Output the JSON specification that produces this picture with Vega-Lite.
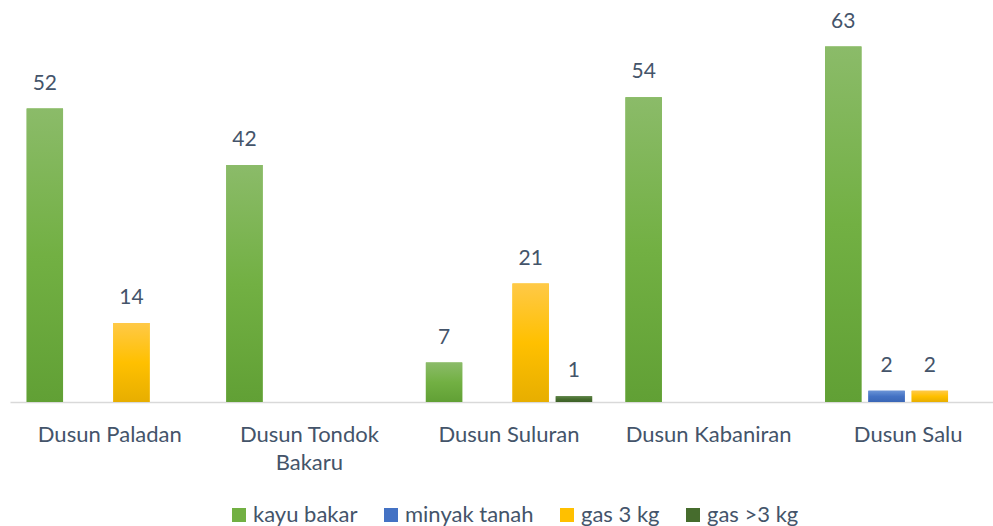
{
  "$schema": "https://vega.github.io/schema/vega-lite/v6.json",
  "width": 983,
  "height": 395,
  "autosize": {"type": "none"},
  "padding": {"left": 10, "top": 7, "right": 0, "bottom": 124},
  "background": "white",
  "config": {"view": {"stroke": null}, "font": "Lato"},
  "data": {"values": [
    {"dusun": "Dusun Paladan", "bahan": "kayu bakar", "jumlah": 52},
    {"dusun": "Dusun Paladan", "bahan": "gas 3 kg", "jumlah": 14},
    {"dusun": "Dusun Tondok Bakaru", "bahan": "kayu bakar", "jumlah": 42},
    {"dusun": "Dusun Suluran", "bahan": "kayu bakar", "jumlah": 7},
    {"dusun": "Dusun Suluran", "bahan": "gas 3 kg", "jumlah": 21},
    {"dusun": "Dusun Suluran", "bahan": "gas >3 kg", "jumlah": 1},
    {"dusun": "Dusun Kabaniran", "bahan": "kayu bakar", "jumlah": 54},
    {"dusun": "Dusun Salu", "bahan": "kayu bakar", "jumlah": 63},
    {"dusun": "Dusun Salu", "bahan": "minyak tanah", "jumlah": 2},
    {"dusun": "Dusun Salu", "bahan": "gas 3 kg", "jumlah": 2}
  ]},
  "encoding": {
    "x": {
      "field": "dusun", "type": "nominal", "sort": null,
      "scale": {"domain": ["Dusun Paladan", "Dusun Tondok Bakaru", "Dusun Suluran", "Dusun Kabaniran", "Dusun Salu"], "range": [0, 998], "paddingInner": 0, "paddingOuter": 0},
      "axis": {
        "title": null, "labelAngle": 0, "ticks": false, "domainColor": "#D9D9D9", "domainWidth": 1.3,
        "labelFont": "Lato", "labelFontSize": 22, "labelColor": "#44546A", "labelPadding": 22.5,
        "labelBaseline": "top", "labelLineHeight": 28, "labelLimit": 300,
        "labelExpr": "datum.label == 'Dusun Tondok Bakaru' ? ['Dusun Tondok', 'Bakaru'] : datum.label"
      }
    },
    "xOffset": {
      "field": "bahan", "type": "nominal",
      "scale": {"domain": ["kayu bakar", "minyak tanah", "gas 3 kg", "gas >3 kg"], "paddingInner": 0.16, "paddingOuter": 0.385}
    },
    "y": {
      "field": "jumlah", "type": "quantitative",
      "scale": {"domain": [0, 70], "nice": false},
      "axis": null
    }
  },
  "layer": [
    {
      "mark": {"type": "bar"},
      "encoding": {
        "color": {
          "field": "bahan", "type": "nominal",
          "scale": {
            "domain": ["kayu bakar", "minyak tanah", "gas 3 kg", "gas >3 kg"],
            "range": ["#72B043", "#4472C4", "#FFC000", "#466C2D"]
          },
          "legend": {
            "title": null, "orient": "none", "direction": "horizontal", "columns": 4,
            "legendX": 218, "legendY": 497, "padding": 0,
            "symbolType": "square", "symbolSize": 196, "symbolStrokeWidth": 0,
            "labelFont": "Lato", "labelFontSize": 22, "labelColor": "#44546A",
            "labelOffset": 3, "columnPadding": 22
          }
        }
      }
    },
    {
      "transform": [{"filter": "datum.bahan == 'kayu bakar'"}],
      "mark": {"type": "bar", "color": {"gradient": "linear", "x1": 0, "y1": 0, "x2": 0, "y2": 1, "stops": [{"offset": 0, "color": "#8BBB69"}, {"offset": 0.5, "color": "#72B043"}, {"offset": 1, "color": "#61A035"}]}},
      "encoding": {}
    },
    {
      "transform": [{"filter": "datum.bahan == 'minyak tanah'"}],
      "mark": {"type": "bar", "color": {"gradient": "linear", "x1": 0, "y1": 0, "x2": 0, "y2": 1, "stops": [{"offset": 0, "color": "#6A93D6"}, {"offset": 0.5, "color": "#4472C4"}, {"offset": 1, "color": "#3A66B6"}]}},
      "encoding": {}
    },
    {
      "transform": [{"filter": "datum.bahan == 'gas 3 kg'"}],
      "mark": {"type": "bar", "color": {"gradient": "linear", "x1": 0, "y1": 0, "x2": 0, "y2": 1, "stops": [{"offset": 0, "color": "#FFC947"}, {"offset": 0.5, "color": "#FFC000"}, {"offset": 1, "color": "#E7AE00"}]}},
      "encoding": {}
    },
    {
      "transform": [{"filter": "datum.bahan == 'gas >3 kg'"}],
      "mark": {"type": "bar", "color": {"gradient": "linear", "x1": 0, "y1": 0, "x2": 0, "y2": 1, "stops": [{"offset": 0, "color": "#5D8446"}, {"offset": 0.5, "color": "#466C2D"}, {"offset": 1, "color": "#3D6027"}]}},
      "encoding": {}
    },
    {
      "mark": {"type": "text", "baseline": "middle", "dy": -25, "font": "Lato", "fontSize": 21, "color": "#44546A"},
      "encoding": {"text": {"field": "jumlah", "type": "quantitative"}}
    }
  ]
}
